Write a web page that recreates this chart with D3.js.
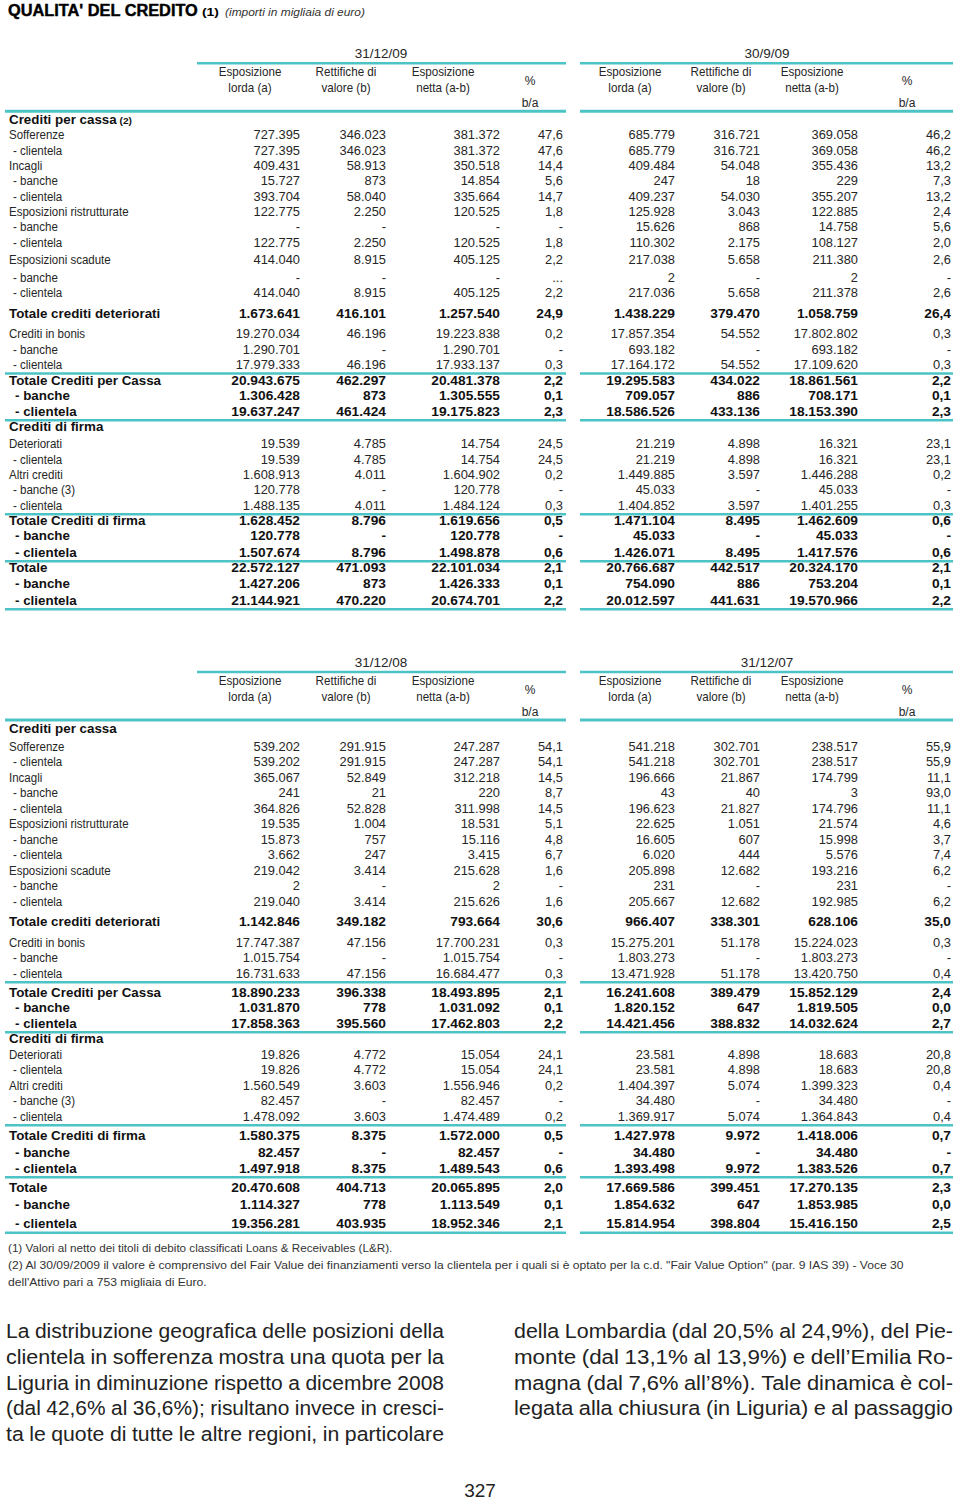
<!DOCTYPE html>
<html><head><meta charset="utf-8">
<script src="https://cdn.jsdelivr.net/npm/d3@7"></script>
<style>html,body{margin:0;padding:0;background:#fff;} svg{display:block;}</style>
</head><body>
<svg id="c" width="960" height="1499"></svg>
<script>
// ---------------- DATA ----------------
const titleMain = "QUALITA' DEL CREDITO";
const titleNote = "(1)";
const titleSub = "(importi in migliaia di euro)";

const rowLabelsTop = ["Crediti per cassa (2)","Sofferenze","- clientela","Incagli","- banche","- clientela","Esposizioni ristrutturate","- banche","- clientela","Esposizioni scadute","- banche","- clientela","Totale crediti deteriorati","Crediti in bonis","- banche","- clientela","Totale Crediti per Cassa","- banche","- clientela","Crediti di firma","Deteriorati","- clientela","Altri crediti","- banche (3)","- clientela","Totale Crediti di firma","- banche","- clientela","Totale","- banche","- clientela"];
const rowLabelsBottom = ["Crediti per cassa","Sofferenze","- clientela","Incagli","- banche","- clientela","Esposizioni ristrutturate","- banche","- clientela","Esposizioni scadute","- banche","- clientela","Totale crediti deteriorati","Crediti in bonis","- banche","- clientela","Totale Crediti per Cassa","- banche","- clientela","Crediti di firma","Deteriorati","- clientela","Altri crediti","- banche (3)","- clientela","Totale Crediti di firma","- banche","- clientela","Totale","- banche","- clientela"];
const rowKinds = ["head","item","sub","item","sub","sub","item","sub","sub","item","sub","sub","total","item","sub","sub","total","tsub","tsub","head","item","sub","item","sub","sub","total","tsub","tsub","total","tsub","tsub"];

const periodsTop = ["31/12/09","30/9/09"];
const periodsBottom = ["31/12/08","31/12/07"];
const colHeads = [["Esposizione","lorda (a)"],["Rettifiche di","valore (b)"],["Esposizione","netta (a-b)"],["%","b/a"]];

const lorda_dic09 = [null,"727.395","727.395","409.431","15.727","393.704","122.775","-","122.775","414.040","-","414.040","1.673.641","19.270.034","1.290.701","17.979.333","20.943.675","1.306.428","19.637.247",null,"19.539","19.539","1.608.913","120.778","1.488.135","1.628.452","120.778","1.507.674","22.572.127","1.427.206","21.144.921"];
const rett_dic09 = [null,"346.023","346.023","58.913","873","58.040","2.250","-","2.250","8.915","-","8.915","416.101","46.196","-","46.196","462.297","873","461.424",null,"4.785","4.785","4.011","-","4.011","8.796","-","8.796","471.093","873","470.220"];
const netta_dic09 = [null,"381.372","381.372","350.518","14.854","335.664","120.525","-","120.525","405.125","-","405.125","1.257.540","19.223.838","1.290.701","17.933.137","20.481.378","1.305.555","19.175.823",null,"14.754","14.754","1.604.902","120.778","1.484.124","1.619.656","120.778","1.498.878","22.101.034","1.426.333","20.674.701"];
const pct_dic09 = [null,"47,6","47,6","14,4","5,6","14,7","1,8","-","1,8","2,2","...","2,2","24,9","0,2","-","0,3","2,2","0,1","2,3",null,"24,5","24,5","0,2","-","0,3","0,5","-","0,6","2,1","0,1","2,2"];

const lorda_set09 = [null,"685.779","685.779","409.484","247","409.237","125.928","15.626","110.302","217.038","2","217.036","1.438.229","17.857.354","693.182","17.164.172","19.295.583","709.057","18.586.526",null,"21.219","21.219","1.449.885","45.033","1.404.852","1.471.104","45.033","1.426.071","20.766.687","754.090","20.012.597"];
const rett_set09 = [null,"316.721","316.721","54.048","18","54.030","3.043","868","2.175","5.658","-","5.658","379.470","54.552","-","54.552","434.022","886","433.136",null,"4.898","4.898","3.597","-","3.597","8.495","-","8.495","442.517","886","441.631"];
const netta_set09 = [null,"369.058","369.058","355.436","229","355.207","122.885","14.758","108.127","211.380","2","211.378","1.058.759","17.802.802","693.182","17.109.620","18.861.561","708.171","18.153.390",null,"16.321","16.321","1.446.288","45.033","1.401.255","1.462.609","45.033","1.417.576","20.324.170","753.204","19.570.966"];
const pct_set09 = [null,"46,2","46,2","13,2","7,3","13,2","2,4","5,6","2,0","2,6","-","2,6","26,4","0,3","-","0,3","2,2","0,1","2,3",null,"23,1","23,1","0,2","-","0,3","0,6","-","0,6","2,1","0,1","2,2"];

const lorda_dic08 = [null,"539.202","539.202","365.067","241","364.826","19.535","15.873","3.662","219.042","2","219.040","1.142.846","17.747.387","1.015.754","16.731.633","18.890.233","1.031.870","17.858.363",null,"19.826","19.826","1.560.549","82.457","1.478.092","1.580.375","82.457","1.497.918","20.470.608","1.114.327","19.356.281"];
const rett_dic08 = [null,"291.915","291.915","52.849","21","52.828","1.004","757","247","3.414","-","3.414","349.182","47.156","-","47.156","396.338","778","395.560",null,"4.772","4.772","3.603","-","3.603","8.375","-","8.375","404.713","778","403.935"];
const netta_dic08 = [null,"247.287","247.287","312.218","220","311.998","18.531","15.116","3.415","215.628","2","215.626","793.664","17.700.231","1.015.754","16.684.477","18.493.895","1.031.092","17.462.803",null,"15.054","15.054","1.556.946","82.457","1.474.489","1.572.000","82.457","1.489.543","20.065.895","1.113.549","18.952.346"];
const pct_dic08 = [null,"54,1","54,1","14,5","8,7","14,5","5,1","4,8","6,7","1,6","-","1,6","30,6","0,3","-","0,3","2,1","0,1","2,2",null,"24,1","24,1","0,2","-","0,2","0,5","-","0,6","2,0","0,1","2,1"];

const lorda_dic07 = [null,"541.218","541.218","196.666","43","196.623","22.625","16.605","6.020","205.898","231","205.667","966.407","15.275.201","1.803.273","13.471.928","16.241.608","1.820.152","14.421.456",null,"23.581","23.581","1.404.397","34.480","1.369.917","1.427.978","34.480","1.393.498","17.669.586","1.854.632","15.814.954"];
const rett_dic07 = [null,"302.701","302.701","21.867","40","21.827","1.051","607","444","12.682","-","12.682","338.301","51.178","-","51.178","389.479","647","388.832",null,"4.898","4.898","5.074","-","5.074","9.972","-","9.972","399.451","647","398.804"];
const netta_dic07 = [null,"238.517","238.517","174.799","3","174.796","21.574","15.998","5.576","193.216","231","192.985","628.106","15.224.023","1.803.273","13.420.750","15.852.129","1.819.505","14.032.624",null,"18.683","18.683","1.399.323","34.480","1.364.843","1.418.006","34.480","1.383.526","17.270.135","1.853.985","15.416.150"];
const pct_dic07 = [null,"55,9","55,9","11,1","93,0","11,1","4,6","3,7","7,4","6,2","-","6,2","35,0","0,3","-","0,4","2,4","0,0","2,7",null,"20,8","20,8","0,4","-","0,4","0,7","-","0,7","2,3","0,0","2,5"];

const footnotes = [
  "(1) Valori al netto dei titoli di debito classificati Loans & Receivables (L&R).",
  "(2) Al 30/09/2009 il valore è comprensivo del Fair Value dei finanziamenti verso la clientela per i quali si è optato per la c.d. \"Fair Value Option\" (par. 9 IAS 39) - Voce 30",
  "dell'Attivo pari a 753 migliaia di Euro."
];
const bodyLeft = [
  "La distribuzione geografica delle posizioni della",
  "clientela in sofferenza mostra una quota per la",
  "Liguria in diminuzione rispetto a dicembre 2008",
  "(dal 42,6% al 36,6%); risultano invece in cresci-",
  "ta le quote di tutte le altre regioni, in particolare"
];
const bodyRight = [
  "della Lombardia (dal 20,5% al 24,9%), del Pie-",
  "monte (dal 13,1% al 13,9%) e dell\u2019Emilia Ro-",
  "magna (dal 7,6% all\u20198%). Tale dinamica è col-",
  "legata alla chiusura (in Liguria) e al passaggio"
];
const pageNumber = "327";

// ---------------- LAYOUT ----------------
const W = 960, H = 1499;
const FONT = "'Liberation Sans', Arial, Helvetica, sans-serif";
const TEAL = "#4cc4c5";
const INK = "#262626";
const INKB = "#111";

const svg = d3.select('#c').attr('viewBox', `0 0 ${W} ${H}`);
svg.append('rect').attr('width', W).attr('height', H).attr('fill', '#fff');

function put(g, x, y, str, o = {}) {
  const t = g.append('text')
    .attr('transform', `translate(${x},${y})`)
    .attr('text-anchor', o.anchor || 'start')
    .attr('fill', o.fill || INK)
    .style('font-family', FONT)
    .style('font-size', (o.size || 12) + 'px')
    .style('font-weight', o.weight || 'normal')
    .style('font-style', o.italic ? 'italic' : 'normal')
    .text(str);
  if (o.stroke) t.attr('stroke', o.fill || INK).attr('stroke-width', o.stroke);
  let sx = o.sx || 1;
  if (o.width) { const w = t.node().getComputedTextLength(); if (w > 0) sx = o.width / w; }
  if (sx !== 1) t.attr('transform', `translate(${x},${y}) scale(${sx},1)`);
  return t;
}

// title
const gt = svg.append('g');
put(gt, 8, 15.5, titleMain, {size: 17, weight: 'bold', fill: '#000', width: 190, stroke: 0.45});
put(gt, 202, 15.5, titleNote, {size: 11, weight: 'bold', fill: '#000', width: 17});
put(gt, 225, 15.5, titleSub, {size: 11.5, italic: true, fill: '#333', width: 140});

// column groups (two periods side by side)
const groups = [
  {date: 381, head: [250, 346, 443, 530], right: [300, 386, 500, 563], under: [197, 566], rule: [5, 566]},
  {date: 767, head: [630, 721, 812, 907], right: [675, 760, 858, 951], under: [580, 953], rule: [580, 953]}
];

const styles = {
  head:  {label: {size: 12.5, weight: 'bold', fill: INKB, sx: 1.07}, x: 9},
  item:  {label: {size: 12, sx: 0.96}, num: {size: 12.5, sx: 1.03}, x: 9},
  sub:   {label: {size: 12, sx: 0.96}, num: {size: 12.5, sx: 1.03}, x: 13},
  total: {label: {size: 12.5, weight: 'bold', fill: INKB, sx: 1.07}, num: {size: 12.5, weight: 'bold', fill: INKB, sx: 1.1}, x: 9},
  tsub:  {label: {size: 12.5, weight: 'bold', fill: INKB, sx: 1.07}, num: {size: 12.5, weight: 'bold', fill: INKB, sx: 1.1}, x: 15}
};

const tables = [
  {top: 58.3, y0: 124, step: 15.35, labels: rowLabelsTop,
   extra: {9: 2, 10: 2, 12: 5.5, 13: 5.2, 16: 0.7, 20: 1.9, 27: 1, 29: 0.5, 30: 1.5},
   periods: [{name: periodsTop[0], cols: [lorda_dic09, rett_dic09, netta_dic09, pct_dic09]},
             {name: periodsTop[1], cols: [lorda_set09, rett_set09, netta_set09, pct_set09]}]},
  {top: 667, y0: 733.3, step: 15.5, labels: rowLabelsBottom,
   extra: {1: 1.9, 12: 4.8, 13: 5.2, 16: 3.5, 25: 3.8, 26: 1.8, 28: 3.4, 29: 1.8, 30: 3.8},
   periods: [{name: periodsBottom[0], cols: [lorda_dic08, rett_dic08, netta_dic08, pct_dic08]},
             {name: periodsBottom[1], cols: [lorda_dic07, rett_dic07, netta_dic07, pct_dic07]}]}
];
const rulesAfter = [15, 18, 24, 27, 30];

function hline(g, x1, x2, y, w) {
  g.append('line').attr('x1', x1).attr('x2', x2).attr('y1', y).attr('y2', y)
    .attr('stroke', TEAL).attr('stroke-width', w || 2.5);
}

tables.forEach(tb => {
  const g = svg.append('g');
  const n = tb.labels.length;
  const base = d3.scaleLinear().domain([0, n - 1]).range([tb.y0, tb.y0 + (n - 1) * tb.step]);
  const cum = d3.cumsum(d3.range(n), i => tb.extra[i] || 0);
  const y = i => base(i) + cum[i];

  tb.periods.forEach((p, gi) => {
    const G = groups[gi];
    put(g, G.date, tb.top, p.name, {size: 13.5, anchor: 'middle'});
    hline(g, G.under[0], G.under[1], tb.top + 5, 2.5);
    colHeads.forEach((h, ci) => {
      if (ci < 3) {
        put(g, G.head[ci], tb.top + 17.5, h[0], {size: 12, sx: 0.97, anchor: 'middle'});
        put(g, G.head[ci], tb.top + 33.7, h[1], {size: 12, sx: 0.97, anchor: 'middle'});
      } else {
        put(g, G.head[ci], tb.top + 27, h[0], {size: 12, anchor: 'middle'});
        put(g, G.head[ci], tb.top + 48.7, h[1], {size: 12, anchor: 'middle'});
      }
    });
    hline(g, G.rule[0], G.rule[1], tb.top + 53, 3);

    p.cols.forEach((arr, ci) => {
      arr.forEach((v, i) => {
        if (v == null) return;
        const st = styles[rowKinds[i]];
        put(g, G.right[ci], y(i), v, Object.assign({anchor: 'end'}, st.num));
      });
    });
    rulesAfter.forEach(i => hline(g, G.rule[0], G.rule[1], y(i) + 4.5, 2.5));
  });

  tb.labels.forEach((lab, i) => {
    const st = styles[rowKinds[i]];
    const m = rowKinds[i] === 'head' ? lab.match(/^(.*?)(\s\(\d\))$/) : null;
    if (m) {
      const t = put(g, st.x, y(i), m[1], st.label);
      t.append('tspan').style('font-size', '9.5px').text(m[2]);
    } else {
      put(g, st.x, y(i), lab, st.label);
    }
  });
});

// footnotes
const gf = svg.append('g');
const fnY = [1252, 1269, 1286];
const fnW = [385, 897, 199];
footnotes.forEach((f, i) => put(gf, 8, fnY[i], f, {size: 11, fill: '#333', width: fnW[i]}));

// body text (justified, two columns)
const gb = svg.append('g');
function justify(line, x0, x1, yy, size) {
  const words = line.split(' ');
  const tmp = words.map(w => put(gb, 0, yy, w, {size: size, fill: '#222'}));
  const widths = tmp.map(t => t.node().getComputedTextLength());
  tmp.forEach(t => t.remove());
  const total = d3.sum(widths);
  const target = x1 - x0;
  const gap = 5.5;
  const sx = (target - gap * (words.length - 1)) / total;
  let x = x0;
  words.forEach((w, k) => {
    put(gb, x, yy, w, {size: size, fill: '#222', sx: sx});
    x += widths[k] * sx + gap;
  });
}
const bodyY = [1338, 1364, 1389.5, 1415, 1441];
bodyLeft.forEach((l, i) => justify(l, 6, 444, bodyY[i], 19.5));
bodyRight.forEach((l, i) => justify(l, 514, 953, bodyY[i], 19.5));

put(svg.append('g'), 480, 1497, pageNumber, {size: 19, anchor: 'middle', fill: '#222'});
</script>
</body></html>
